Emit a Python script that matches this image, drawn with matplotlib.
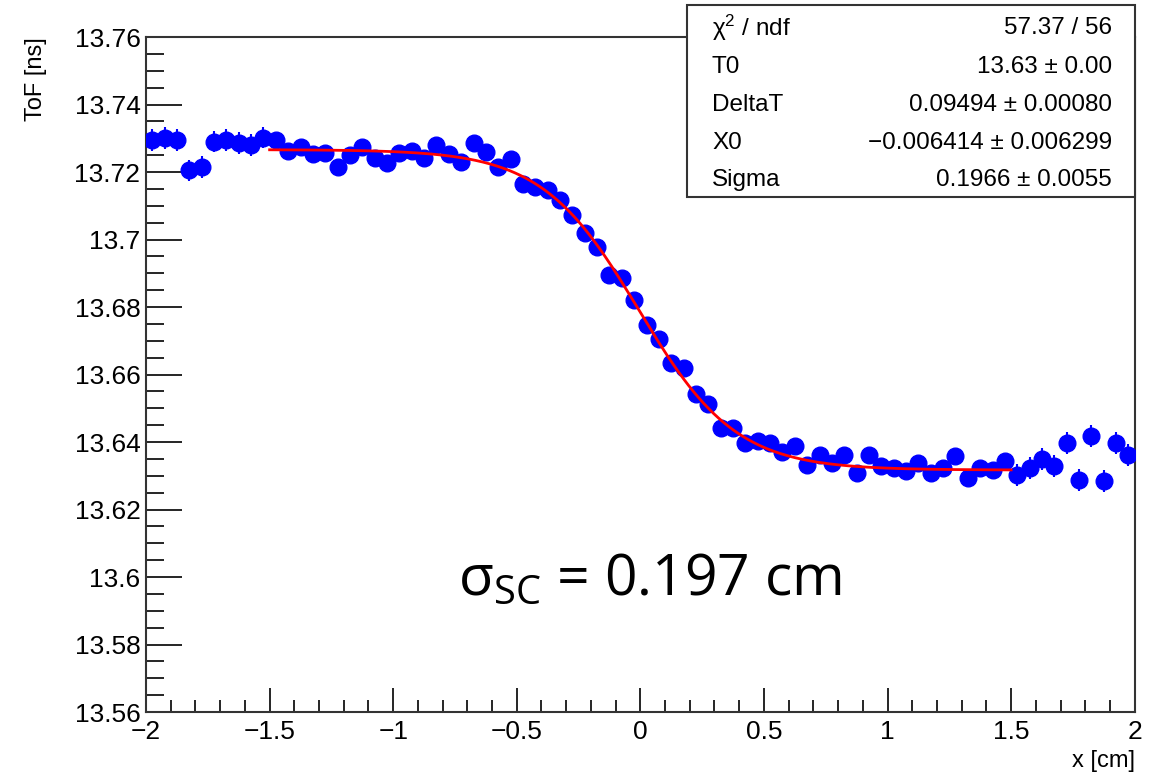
import math
import numpy as np
import matplotlib
matplotlib.use('Agg')
import matplotlib.pyplot as plt
from matplotlib.patches import Rectangle
from matplotlib.ticker import MultipleLocator

x_bins = np.arange(-1.975, 2.0, 0.05)
tof = [13.7295, 13.7300, 13.7295, 13.7205, 13.7215, 13.7290, 13.7295, 13.7286,
       13.7280, 13.7302, 13.7295, 13.7262, 13.7274, 13.7253, 13.7256, 13.7215,
       13.7250, 13.7273, 13.7242, 13.7227, 13.7256, 13.7262, 13.7242, 13.7280,
       13.7253, 13.7230, 13.7286, 13.7259, 13.7215, 13.7239, 13.7164, 13.7155,
       13.7147, 13.7116, 13.7073, 13.7019, 13.6978, 13.6895, 13.6886, 13.6820,
       13.6748, 13.6706, 13.6635, 13.6620, 13.6543, 13.6513, 13.6442, 13.6442,
       13.6397, 13.6404, 13.6397, 13.6370, 13.6388, 13.6332, 13.6361, 13.6338,
       13.6361, 13.6308, 13.6361, 13.6329, 13.6323, 13.6314, 13.6338, 13.6308,
       13.6323, 13.6358, 13.6293, 13.6323, 13.6317, 13.6344, 13.6302, 13.6323,
       13.6350, 13.6329, 13.6397, 13.6287, 13.6418, 13.6284, 13.6397, 13.6361]
tof_err = [0.0032 if abs(xv) > 1.5 else (0.0022 if abs(xv) > 1.3 else 0.0008)
           for xv in x_bins]

# Fit result (stats box)
T0, DeltaT, X0, Sigma = 13.6317, 0.09494, -0.006414, 0.1966
fit_range = (-1.5, 1.5)

stat_labels = ['$\\mathregular{χ^2}$ / ndf', 'T0', 'DeltaT', 'X0', 'Sigma']
stat_values = ['57.37 / 56', '13.63 ± 0.00', '0.09494 ± 0.00080',
               '\u22120.006414 ± 0.006299', '0.1966 ± 0.0055']

narrow = ['Liberation Sans Narrow', 'Liberation Sans', 'DejaVu Sans']
plt.rcParams['font.family'] = ['Liberation Sans', 'DejaVu Sans']

fig = plt.figure(figsize=(11.59, 7.78), dpi=100)
ax = fig.add_axes([0.126, 0.0848, 0.853, 0.8676])

ax.errorbar(x_bins, tof, yerr=tof_err, fmt='o', color='#0000ff', ms=12,
            elinewidth=1.5, capsize=0, zorder=3)

# Fermi-like step used in the fit
xf = np.linspace(fit_range[0], fit_range[1], 300)
yf = [T0 + DeltaT / (1 + math.exp((v - X0) / Sigma)) for v in xf]
ax.plot(xf, yf, color='#ff0000', lw=2, zorder=4)

ax.set_xlim(-2, 2)
ax.set_ylim(13.56, 13.76)
ax.xaxis.set_major_locator(MultipleLocator(0.5))
ax.xaxis.set_minor_locator(MultipleLocator(0.1))
ax.yaxis.set_major_locator(MultipleLocator(0.02))
ax.yaxis.set_minor_locator(MultipleLocator(0.005))
ax.xaxis.set_major_formatter(plt.FuncFormatter(lambda v, p: ('%g' % v).replace('-', '\u2212')))
ax.yaxis.set_major_formatter(plt.FuncFormatter(lambda v, p: '%g' % round(v, 3)))

ax.tick_params(axis='x', which='major', direction='in', length=17, width=1.2, pad=6)
ax.tick_params(axis='x', which='minor', direction='in', length=9, width=1.2)
ax.tick_params(axis='y', which='major', direction='in', length=26, width=1.2, pad=4)
ax.tick_params(axis='y', which='minor', direction='in', length=13, width=1.2)
for lab in ax.get_xticklabels() + ax.get_yticklabels():
    lab.set_family(narrow)
    lab.set_fontsize(19)
for s in ax.spines.values():
    s.set_linewidth(1.5)
    s.set_color('#333333')

ax.set_xlabel('x [cm]', family=narrow, fontsize=17, loc='right', labelpad=4)
ax.set_ylabel('ToF [ns]', family=narrow, fontsize=17, loc='top', labelpad=20)

ax.text(0.04, 13.5989, '$\\mathregular{σ_{SC}}$ = 0.197 cm', fontsize=41,
        family=['Open Sans', 'DejaVu Sans'], ha='center', va='center')

# stats box
bx0, by0, bw, bh = 687 / 1159, 1 - 197 / 778, 448 / 1159, 192 / 778
fig.add_artist(Rectangle((bx0, by0), bw, bh, transform=fig.transFigure,
                         facecolor='white', edgecolor='#333333', lw=1.5, zorder=10))
row_y = [28, 67, 105, 143, 180]
for lab, val, ry in zip(stat_labels, stat_values, row_y):
    fy = 1 - ry / 778
    fig.text(712 / 1159, fy, lab, fontsize=17.5, ha='left', va='center', zorder=11)
    fig.text(1112 / 1159, fy, val, fontsize=17.5, ha='right', va='center', zorder=11)

fig.savefig('out.png', dpi=100)
